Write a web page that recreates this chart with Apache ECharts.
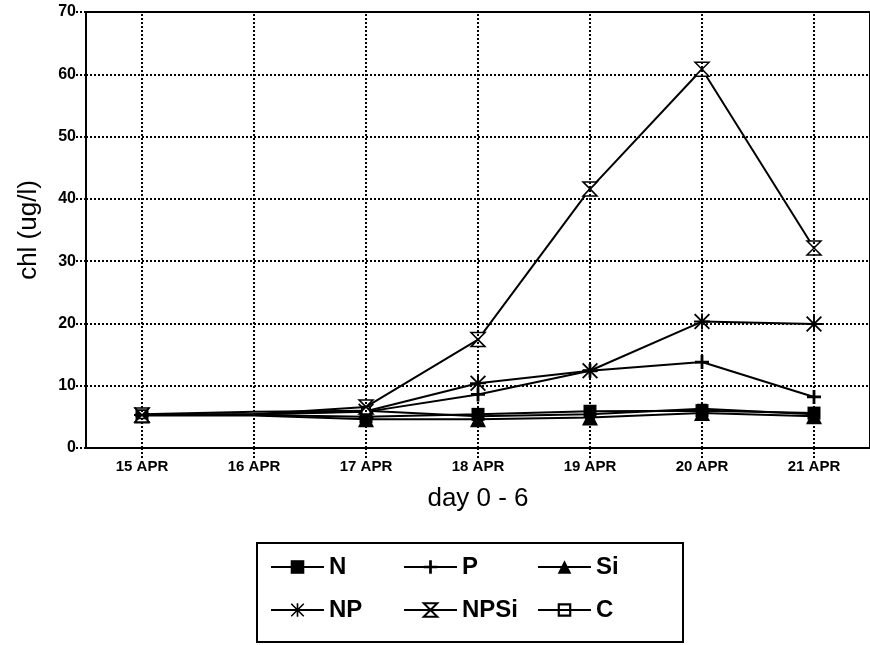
<!DOCTYPE html>
<html>
<head>
<meta charset="utf-8">
<script src="https://cdn.jsdelivr.net/npm/echarts@6/dist/echarts.min.js"></script>
<style>html,body{margin:0;padding:0;background:#fff;}#c{width:870px;height:645px;}</style>
</head>
<body>
<div id="c"></div>
<script>
const categories = ['15 APR', '16 APR', '17 APR', '18 APR', '19 APR', '20 APR', '21 APR'];
const seriesN    = [5.3, 5.3, 5.0, 5.4, 5.9, 6.0, 5.6];
const seriesP    = [5.3, 5.4, 5.8, 8.6, 12.4, 13.8, 8.2];
const seriesSi   = [5.2, 5.2, 4.6, 4.6, 4.9, 5.6, 5.1];
const seriesNP   = [5.3, 5.4, 5.9, 10.4, 12.4, 20.3, 19.9];
const seriesNPSi = [5.3, 5.4, 6.6, 17.4, 41.6, 60.8, 32.1];
const seriesC    = [5.4, 5.8, 6.0, 5.1, 5.4, 6.3, 5.4];
const yMin = 0, yMax = 70, yStep = 10;
const unmarkedDay = '16 APR';

const SYM_PLUS = 'path://M4,0 H6 V4 H10 V6 H6 V10 H4 V6 H0 V4 H4 Z';
const SYM_STAR = 'path://M4.4,0 H5.6 V10 H4.4 Z M0,4.4 H10 V5.6 H0 Z M0.8,0 L10,9.2 L9.2,10 L0,0.8 Z M9.2,0 L10,0.8 L0.8,10 L0,9.2 Z';
const SYM_HOUR = 'path://M0,0 H10 L5,5 Z M5,5 L10,10 H0 Z';
const SYM_OPEN = 'path://M0,0 H10 V10 H0 Z M1.6,1.6 V8.4 H8.4 V1.6 Z';

const dotted = [2, 2];
const tickFont = "'Liberation Sans', Arial, Helvetica, sans-serif";
const textFont = "'Liberation Sans', Arial, Helvetica, sans-serif";

function mk(name, vals, symbol, size, extra) {
  const data = vals.map((v, i) => categories[i] === unmarkedDay ? { value: v, symbol: 'none' } : v);
  return Object.assign({
    name: name,
    type: 'line',
    data: data,
    symbol: symbol,
    symbolSize: size,
    showAllSymbol: true,
    lineStyle: { color: '#000', width: 2 },
    itemStyle: { color: '#000' },
    animation: false
  }, extra || {});
}

const series = [
  mk('N', seriesN, 'rect', 13, {
    markLine: {
      silent: true, symbol: 'none', label: { show: false },
      lineStyle: { color: '#000', width: 2, type: dotted },
      data: categories.map(c => ({ xAxis: c })),
      animation: false
    }
  }),
  mk('P', seriesP, SYM_PLUS, 14),
  mk('Si', seriesSi, 'triangle', 16),
  mk('NP', seriesNP, SYM_STAR, 16),
  mk('NPSi', seriesNPSi, SYM_HOUR, 14, { itemStyle: { color: '#fff', borderColor: '#000', borderWidth: 1.5 } }),
  mk('C', seriesC, SYM_OPEN, 10)
];

function legendCol(names, left) {
  return {
    data: names,
    orient: 'vertical',
    left: left,
    top: 555,
    padding: 0,
    itemGap: 19,
    itemWidth: 53,
    itemHeight: 17,
    selectedMode: false,
    textStyle: { color: '#000', fontSize: 24, fontWeight: 'bold', fontFamily: textFont, lineHeight: 24 }
  };
}

const chart = echarts.init(document.getElementById('c'), null, { renderer: 'canvas' });
chart.setOption({
  backgroundColor: '#fff',
  animation: false,
  grid: { left: 86, top: 12, height: 436, width: 791, show: true, borderColor: '#000', borderWidth: 2, backgroundColor: 'transparent' },
  xAxis: {
    type: 'category',
    data: categories,
    boundaryGap: true,
    name: 'day 0 - 6',
    nameLocation: 'middle',
    nameGap: 38,
    nameTextStyle: { color: '#000', fontSize: 26, fontFamily: textFont },
    axisLine: { lineStyle: { color: '#000', width: 2 } },
    axisTick: { show: true, alignWithLabel: true, length: 10, lineStyle: { color: '#000', width: 2, type: dotted } },
    axisLabel: { color: '#000', fontSize: 15, fontWeight: 'bold', fontFamily: tickFont, margin: 11 },
    splitLine: { show: false }
  },
  yAxis: {
    type: 'value',
    min: yMin, max: yMax, interval: yStep,
    name: 'chl (ug/l)',
    nameLocation: 'middle',
    nameGap: 44,
    nameTextStyle: { color: '#000', fontSize: 26, fontFamily: textFont },
    axisLine: { show: true, lineStyle: { color: '#000', width: 2 } },
    axisTick: { show: true, length: 10, lineStyle: { color: '#000', width: 2, type: dotted } },
    axisLabel: { color: '#000', fontSize: 16, fontWeight: 'bold', fontFamily: tickFont, margin: 10 },
    splitLine: { show: true, lineStyle: { color: '#000', width: 2, type: dotted } }
  },
  legend: [
    legendCol(['N', 'NP'], 270),
    legendCol(['P', 'NPSi'], 403),
    legendCol(['Si', 'C'], 537)
  ],
  graphic: [{
    type: 'rect',
    shape: { x: 257, y: 543, width: 426, height: 99 },
    style: { fill: 'none', stroke: '#000', lineWidth: 2 },
    silent: true
  }],
  series: series
});
</script>
</body>
</html>
